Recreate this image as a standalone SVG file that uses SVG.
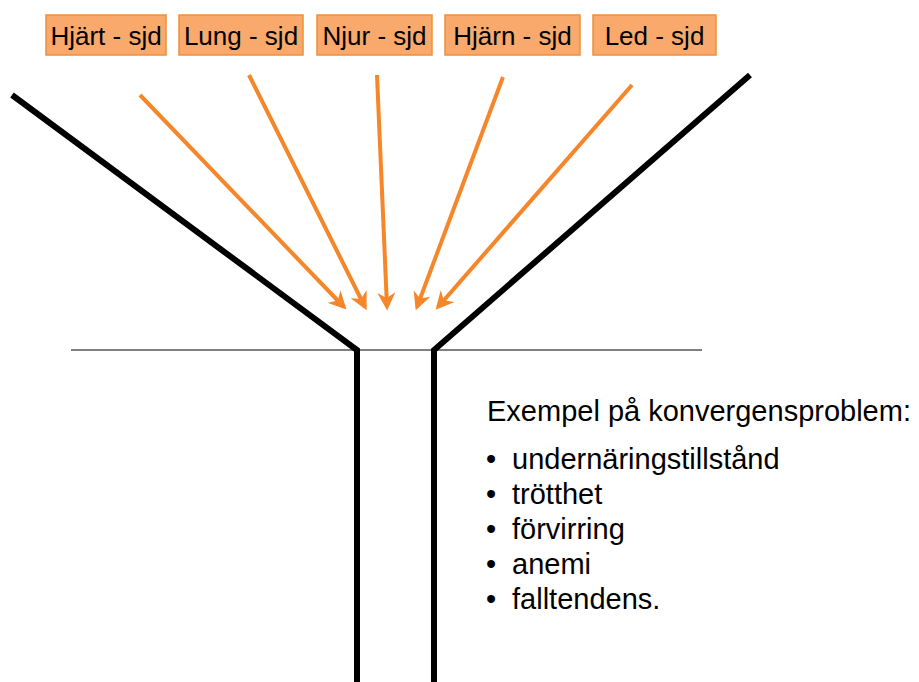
<svg xmlns="http://www.w3.org/2000/svg" width="919" height="682" viewBox="0 0 919 682">
<defs>
<style>
.box{fill:#F8A96B;stroke:#F0903A;stroke-width:1.5}
.lbl{font-family:"Liberation Sans",Arial,sans-serif;font-size:26px;fill:#000;text-anchor:middle}
.arr{stroke:#F5862A;stroke-width:4;fill:none;marker-end:url(#ah)}
.funnel{stroke:#000;stroke-width:6;fill:none;stroke-linejoin:miter}
.txt{font-family:"Liberation Sans",Arial,sans-serif;font-size:29px;fill:#000}
</style>
<marker id="ah" viewBox="0 0 10 10" refX="8" refY="5" markerWidth="4.5" markerHeight="4.5" orient="auto" markerUnits="strokeWidth">
<path d="M0,0 L10,5 L0,10 L3,5 z" fill="#F5862A"/>
</marker>
</defs>
<rect width="919" height="682" fill="#fff"/>
<g id="funnel">
<line x1="71" y1="350" x2="702" y2="350" stroke="#000" stroke-width="1.2"/>
<polyline class="funnel" points="12,95 357,350 357,682"/>
<polyline class="funnel" points="750,75 434,350 434,682"/>
</g>
<g id="n1"><rect class="box" x="46" y="15" width="120" height="40"/><text class="lbl" x="106" y="45">Hjärt - sjd</text></g>
<g id="n2"><rect class="box" x="179" y="15" width="124" height="40"/><text class="lbl" x="241" y="45">Lung - sjd</text></g>
<g id="n3"><rect class="box" x="317" y="15" width="115" height="40"/><text class="lbl" x="374.5" y="45">Njur - sjd</text></g>
<g id="n4"><rect class="box" x="445" y="15" width="135" height="40"/><text class="lbl" x="512.5" y="45">Hjärn - sjd</text></g>
<g id="n5"><rect class="box" x="593" y="15" width="123" height="40"/><text class="lbl" x="654.5" y="45">Led - sjd</text></g>
<g id="connectors">
<line class="arr" x1="140" y1="95" x2="344" y2="307"/>
<line class="arr" x1="249" y1="75" x2="365" y2="307"/>
<line class="arr" x1="377" y1="75" x2="387" y2="307"/>
<line class="arr" x1="503" y1="77" x2="417" y2="307"/>
<line class="arr" x1="632" y1="85" x2="438" y2="307"/>
</g>
<g id="text">
<text class="txt" x="487" y="421">Exempel på konvergensproblem:</text>
<text class="txt" x="486" y="469">•</text><text class="txt" x="512" y="469">undernäringstillstånd</text>
<text class="txt" x="486" y="504">•</text><text class="txt" x="512" y="504">trötthet</text>
<text class="txt" x="486" y="539">•</text><text class="txt" x="512" y="539">förvirring</text>
<text class="txt" x="486" y="574">•</text><text class="txt" x="512" y="574">anemi</text>
<text class="txt" x="486" y="609">•</text><text class="txt" x="512" y="609">falltendens.</text>
</g>
</svg>
